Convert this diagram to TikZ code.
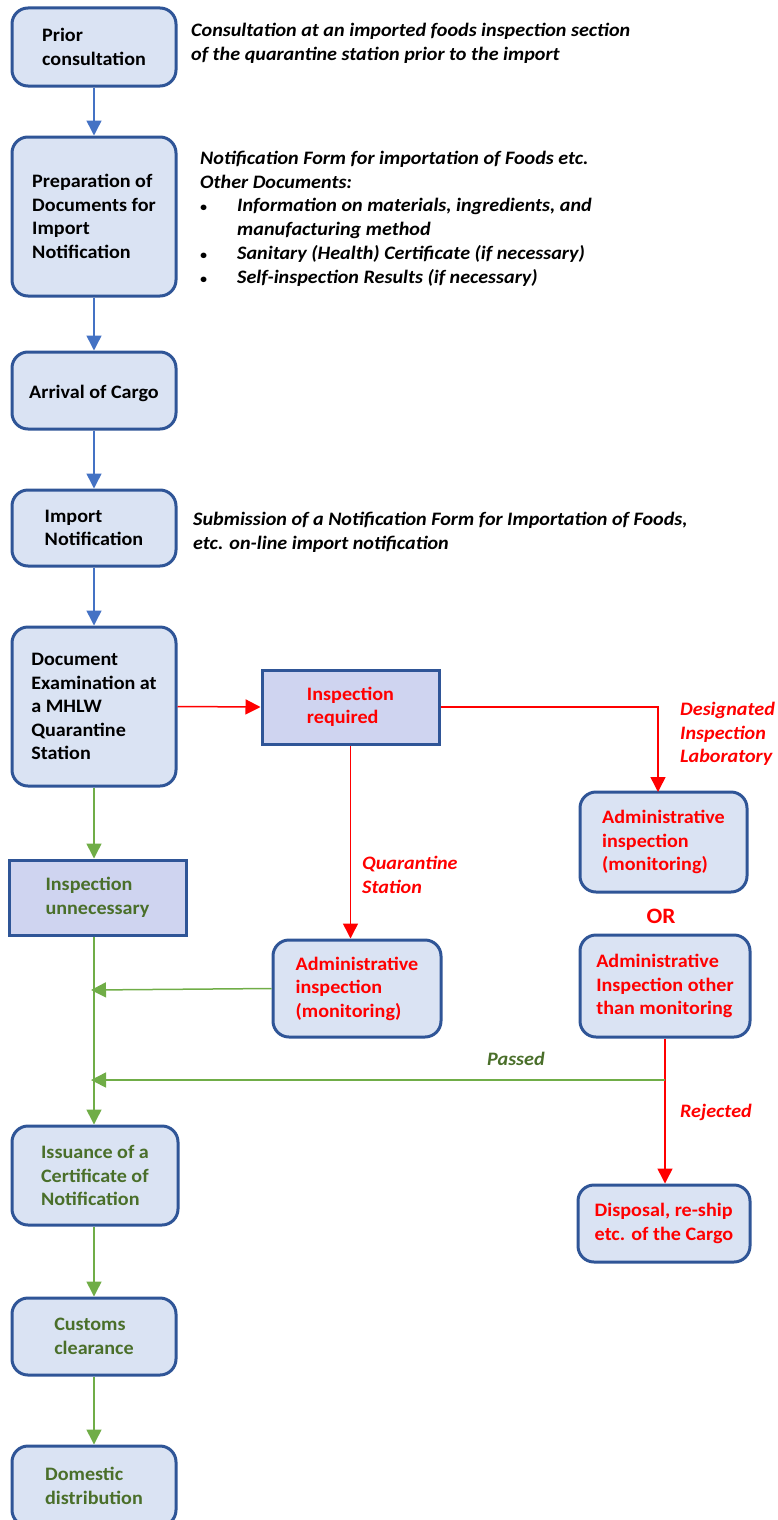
\documentclass[tikz,border=0pt]{standalone}
\usepackage{fontspec}
\setmainfont[FakeStretch=1.06]{Carlito}
\usetikzlibrary{arrows.meta}
\definecolor{boxfill}{HTML}{DAE3F3}
\definecolor{rectfill}{HTML}{CFD4F0}
\definecolor{boxline}{HTML}{2F5597}
\definecolor{bluearr}{HTML}{4472C4}
\definecolor{greenarr}{HTML}{70AD47}
\definecolor{greentxt}{HTML}{4A6F2A}
\definecolor{redc}{HTML}{FF0000}
\newcommand{\blt}{\makebox[37pt][l]{\fontsize{13}{13}\selectfont\textbullet}}
\tikzset{
  rbox/.style={draw=boxline, line width=3pt, fill=boxfill, rounded corners=16pt, align=left, inner sep=0pt, font=\bfseries\fontsize{19}{23.5}\selectfont, execute at begin node={\rule{0pt}{20pt}}},
  sbox/.style={draw=boxline, line width=3pt, fill=rectfill, align=left, inner sep=0pt, font=\bfseries\fontsize{19}{23.5}\selectfont, execute at begin node={\rule{0pt}{20pt}}},
  note/.style={align=left, anchor=north west, inner sep=0pt, font=\bfseries\itshape\fontsize{19}{23.5}\selectfont},
  barrow/.style={draw=bluearr, line width=1.5pt, -{Triangle[width=15pt,length=15pt]}},
  garrow/.style={draw=greenarr, line width=1.5pt, -{Triangle[width=15pt,length=15pt]}},
  rarrow/.style={draw=redc, line width=1.5pt, -{Triangle[width=15pt,length=15pt]}},
}
\begin{document}
\begin{tikzpicture}[x=1pt,y=-1pt]
\path[use as bounding box] (0,0) rectangle (777,1520);
% boxes
\node[rbox, minimum width=164pt, minimum height=78pt] (prior) at (94,47) {Prior\\consultation};
\node[rbox, minimum width=164pt, minimum height=159pt] (prep) at (94,216.5) {Preparation of\\Documents for\\Import\\Notification};
\node[rbox, minimum width=164pt, minimum height=77pt] (arrival) at (94,390.5) {Arrival of Cargo};
\node[rbox, minimum width=164pt, minimum height=76pt] (importn) at (94,528) {Import\\Notification};
\node[rbox, minimum width=164pt, minimum height=159pt] (docex) at (94,706.5) {Document\\Examination at\\a MHLW\\Quarantine\\Station};
\node[sbox, minimum width=177pt, minimum height=75pt, text=greentxt] (unnec) at (97.5,897.5) {Inspection\\unnecessary};
\node[sbox, minimum width=177pt, minimum height=74pt, text=redc] (inspreq) at (350.5,707) {Inspection\\required};
\node[rbox, minimum width=167pt, minimum height=100pt, text=redc] (admR1) at (663.5,842) {Administrative\\inspection\\(monitoring)};
\node[rbox, minimum width=168pt, minimum height=97pt, text=redc] (admL) at (357,988.5) {Administrative\\inspection\\(monitoring)};
\node[rbox, minimum width=170pt, minimum height=102pt, text=redc] (admR2) at (665,986) {Administrative\\Inspection other\\than monitoring};
\node[rbox, minimum width=172pt, minimum height=77pt, text=redc] (disp) at (664,1223.5) {Disposal, re-ship\\etc. of the Cargo};
\node[rbox, minimum width=166pt, minimum height=99pt, text=greentxt] (issue) at (95,1175.5) {Issuance of a\\Certificate of\\Notification};
\node[rbox, minimum width=164pt, minimum height=77pt, text=greentxt] (customs) at (94,1336.5) {Customs\\clearance};
\node[rbox, minimum width=164pt, minimum height=80pt, text=greentxt] (domestic) at (94,1486) {Domestic\\distribution};
\node[font=\bfseries\fontsize{22}{26}\selectfont, text=redc] (or) at (661,916) {OR};
% notes
\node[note] (n1) at (191,23) {Consultation at an imported foods inspection section\\of the quarantine station prior to the import};
\node[note] (n2) at (200,151) {Notification Form for importation of Foods etc.\\Other Documents:};
\node[note, font=\bfseries\itshape\fontsize{19}{24}\selectfont] (n3) at (200,198) {\blt Information on materials, ingredients, and\\\hspace*{37pt}manufacturing method\\\blt Sanitary (Health) Certificate (if necessary)\\\blt Self-inspection Results (if necessary)};
\node[note] (n4) at (193,512) {Submission of a Notification Form for Importation of Foods,\\etc. on-line import notification};
\node[note, text=redc] (lab1) at (680,702) {Designated\\Inspection\\Laboratory};
\node[note, text=redc] (lab2) at (362,856) {Quarantine\\Station};
\node[note, text=greentxt] (lab3) at (487,1052) {Passed};
\node[note, text=redc] (lab4) at (680,1104) {Rejected};
% blue connectors
\draw[barrow] (prior) -- (prep);
\draw[barrow] (prep) -- (arrival);
\draw[barrow] (arrival) -- (importn);
\draw[barrow] (importn) -- (docex);
% red connectors
\draw[rarrow] (docex.east) -- (inspreq.west);
\coordinate (rc1) at (658,707);
\coordinate (rc1b) at (658,792);
\draw[rarrow] (inspreq.east) -- (rc1) -- (rc1b);
\draw[rarrow] (inspreq.south) -- (inspreq.south |- admL.north);
\draw[rarrow] (admR2.south) -- (admR2.south |- disp.north);
% green connectors
\draw[garrow] (docex.south) -- (unnec.north -| docex.south);
\draw[garrow] (unnec.south -| docex.south) -- (issue.north -| docex.south);
\coordinate (j1) at (91,990);
\draw[garrow] (admL.west) -- (j1);
\coordinate (p1) at (665,1080);
\coordinate (p2) at (91,1080);
\draw[garrow] (p1) -- (p2);
\draw[garrow] (issue.south -| docex.south) -- (customs.north);
\draw[garrow] (customs) -- (domestic);
\end{tikzpicture}
\end{document}
